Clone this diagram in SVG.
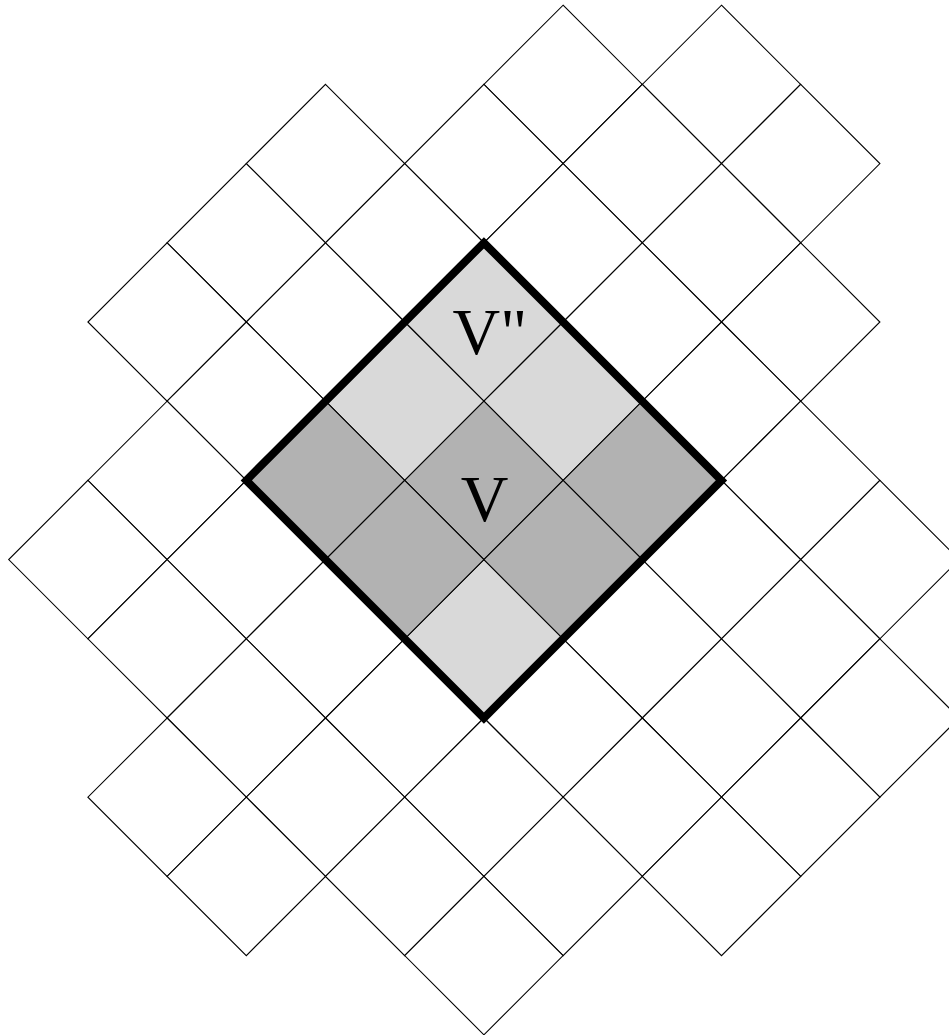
<svg xmlns="http://www.w3.org/2000/svg" xmlns:xlink="http://www.w3.org/1999/xlink" width="949" height="1035" viewBox="0 0 949 1035">
  <style>
    .cell { fill: #ffffff; stroke: #000000; stroke-width: 1.1; }
    .light { fill: #d9d9d9; stroke: #000000; stroke-width: 1.1; }
    .dark { fill: #b2b2b2; stroke: #000000; stroke-width: 1.1; }
    .border { fill: none; stroke: #000000; stroke-width: 8; stroke-linejoin: miter; }
    .lbl { font-family: "Liberation Serif", "Times New Roman", serif; font-size: 66px; fill: #000000; }
  </style>
  <defs>
    <polygon id="c" points="0,-79.2 79.2,0 0,79.2 -79.2,0"/>
  </defs>
  <rect width="949" height="1035" fill="#ffffff"/>
  <g id="grid" class="cell">
    <use href="#c" x="563.1" y="84.4"/>
    <use href="#c" x="721.5" y="84.4"/>

    <use href="#c" x="325.5" y="163.6"/>
    <use href="#c" x="483.9" y="163.6"/>
    <use href="#c" x="642.3" y="163.6"/>
    <use href="#c" x="800.7" y="163.6"/>

    <use href="#c" x="246.3" y="242.8"/>
    <use href="#c" x="404.7" y="242.8"/>
    <use href="#c" x="563.1" y="242.8"/>
    <use href="#c" x="721.5" y="242.8"/>

    <use href="#c" x="167.1" y="322.0"/>
    <use href="#c" x="325.5" y="322.0"/>
    <use href="#c" x="642.3" y="322.0"/>
    <use href="#c" x="800.7" y="322.0"/>

    <use href="#c" x="246.3" y="401.2"/>
    <use href="#c" x="721.5" y="401.2"/>

    <use href="#c" x="167.1" y="480.4"/>
    <use href="#c" x="800.7" y="480.4"/>

    <use href="#c" x="87.9" y="559.6"/>
    <use href="#c" x="246.3" y="559.6"/>
    <use href="#c" x="721.5" y="559.6"/>
    <use href="#c" x="879.9" y="559.6"/>

    <use href="#c" x="167.1" y="638.8"/>
    <use href="#c" x="325.5" y="638.8"/>
    <use href="#c" x="642.3" y="638.8"/>
    <use href="#c" x="800.7" y="638.8"/>

    <use href="#c" x="246.3" y="718.0"/>
    <use href="#c" x="404.7" y="718.0"/>
    <use href="#c" x="563.1" y="718.0"/>
    <use href="#c" x="721.5" y="718.0"/>
    <use href="#c" x="879.9" y="718.0"/>

    <use href="#c" x="167.1" y="797.2"/>
    <use href="#c" x="325.5" y="797.2"/>
    <use href="#c" x="483.9" y="797.2"/>
    <use href="#c" x="642.3" y="797.2"/>
    <use href="#c" x="800.7" y="797.2"/>

    <use href="#c" x="246.3" y="876.4"/>
    <use href="#c" x="404.7" y="876.4"/>
    <use href="#c" x="563.1" y="876.4"/>
    <use href="#c" x="721.5" y="876.4"/>

    <use href="#c" x="483.9" y="955.6"/>
  </g>
  <g id="neighbourhood">
    <g class="light">
      <use href="#c" x="483.9" y="322.0"/>
      <use href="#c" x="404.7" y="401.2"/>
      <use href="#c" x="563.1" y="401.2"/>
      <use href="#c" x="483.9" y="638.8"/>
    </g>
    <g class="dark">
      <use href="#c" x="325.5" y="480.4"/>
      <use href="#c" x="483.9" y="480.4"/>
      <use href="#c" x="642.3" y="480.4"/>
      <use href="#c" x="404.7" y="559.6"/>
      <use href="#c" x="563.1" y="559.6"/>
    </g>
    <polygon class="border" points="483.9,242.8 721.5,480.4 483.9,718.0 246.3,480.4"/>
  </g>
  <g id="labels">
    <text class="lbl" x="452.5" y="354">V"</text>
    <text class="lbl" x="484.7" y="521" text-anchor="middle">V</text>
  </g>
</svg>
